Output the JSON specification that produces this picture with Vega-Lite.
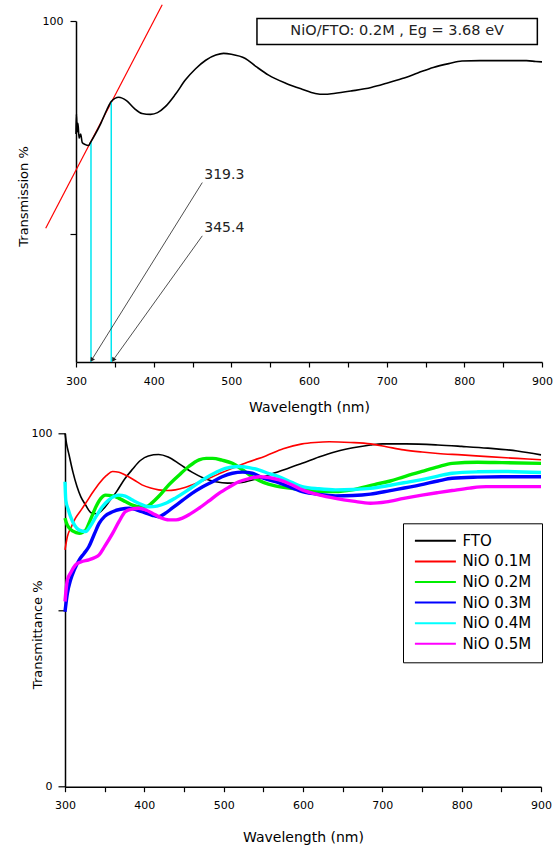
{
  "$schema": "https://vega.github.io/schema/vega-lite/v6.json",
  "padding": {"left": 17, "top": 2, "right": 5, "bottom": 5},
  "config": {
    "font": "DejaVu Sans",
    "view": {"stroke": null},
    "axis": {"grid": false, "domainColor": "black", "tickColor": "black", "labelColor": "black", "titleColor": "black", "labelFont": "DejaVu Sans", "titleFont": "DejaVu Sans", "labelFontSize": 11, "titleFontWeight": "normal", "domainWidth": 1.5, "tickWidth": 1.2}
  },
  "datasets": {
    "top": [
      {"wl": 300, "t": 73.5}, {"wl": 300.5, "t": 78.2}, {"wl": 301.5, "t": 74}, {"wl": 302.5, "t": 76}, {"wl": 304, "t": 72.5}, {"wl": 306, "t": 73.5}, {"wl": 308, "t": 71.5}, {"wl": 312, "t": 71.0}, {"wl": 316, "t": 70.8}, {"wl": 319.3, "t": 71.7}, {"wl": 325, "t": 73.5}, {"wl": 332, "t": 76}, {"wl": 340, "t": 79.3}, {"wl": 345.4, "t": 81.1}, {"wl": 355, "t": 82.1}, {"wl": 365, "t": 81.3}, {"wl": 375, "t": 79.5}, {"wl": 385, "t": 78.3}, {"wl": 396, "t": 78.1}, {"wl": 405, "t": 78.5}, {"wl": 415, "t": 79.9}, {"wl": 428, "t": 82.8}, {"wl": 441, "t": 86.2}, {"wl": 454, "t": 88.8}, {"wl": 467, "t": 90.8}, {"wl": 480, "t": 92.0}, {"wl": 490, "t": 92.4}, {"wl": 500, "t": 92.2}, {"wl": 518, "t": 91.2}, {"wl": 532, "t": 89.3}, {"wl": 548, "t": 87.3}, {"wl": 570, "t": 85.4}, {"wl": 591, "t": 84.0}, {"wl": 608, "t": 83.0}, {"wl": 620, "t": 82.8}, {"wl": 632, "t": 83.0}, {"wl": 655, "t": 83.6}, {"wl": 680, "t": 84.4}, {"wl": 700, "t": 85.4}, {"wl": 720, "t": 86.5}, {"wl": 740, "t": 87.8}, {"wl": 760, "t": 89.1}, {"wl": 780, "t": 90.0}, {"wl": 797, "t": 90.6}, {"wl": 820, "t": 90.7}, {"wl": 850, "t": 90.7}, {"wl": 880, "t": 90.7}, {"wl": 892, "t": 90.5}, {"wl": 900, "t": 90.4}
    ],
    "tangent": [{"wl": 261, "t": 51.4}, {"wl": 411, "t": 103.8}],
    "cutoff": [{"wl": 319.3, "t": 71.7}, {"wl": 345.4, "t": 81.1}],
    "arrows": [
      {"label": "319.3", "x0": 462.6, "y0": 62.1, "x1": 320.2, "y1": 20.5},
      {"label": "345.4", "x0": 462.6, "y0": 49.6, "x1": 348.0, "y1": 20.5}
    ],
    "box": [{"text": "NiO/FTO: 0.2M , Eg = 3.68 eV", "x1": 533, "x2": 894, "y1": 100.6, "y2": 94.5, "xm": 713.5, "ym": 97.55}],
    "bottom": [
      {"s": "FTO", "wl": 300, "t": 100}, {"s": "FTO", "wl": 302, "t": 97}, {"s": "FTO", "wl": 305, "t": 94}, {"s": "FTO", "wl": 310, "t": 89}, {"s": "FTO", "wl": 315, "t": 85}, {"s": "FTO", "wl": 320, "t": 82}, {"s": "FTO", "wl": 326, "t": 79.7}, {"s": "FTO", "wl": 333, "t": 77.5}, {"s": "FTO", "wl": 340, "t": 77.2}, {"s": "FTO", "wl": 348, "t": 78.5}, {"s": "FTO", "wl": 355, "t": 80.5}, {"s": "FTO", "wl": 365, "t": 83.5}, {"s": "FTO", "wl": 375, "t": 87}, {"s": "FTO", "wl": 385, "t": 89.8}, {"s": "FTO", "wl": 395, "t": 92.3}, {"s": "FTO", "wl": 405, "t": 93.6}, {"s": "FTO", "wl": 418, "t": 94}, {"s": "FTO", "wl": 430, "t": 93.3}, {"s": "FTO", "wl": 445, "t": 91.2}, {"s": "FTO", "wl": 460, "t": 89}, {"s": "FTO", "wl": 475, "t": 87.3}, {"s": "FTO", "wl": 490, "t": 86.3}, {"s": "FTO", "wl": 505, "t": 85.9}, {"s": "FTO", "wl": 520, "t": 86.0}, {"s": "FTO", "wl": 540, "t": 87}, {"s": "FTO", "wl": 557, "t": 88.2}, {"s": "FTO", "wl": 580, "t": 90}, {"s": "FTO", "wl": 599, "t": 91.5}, {"s": "FTO", "wl": 620, "t": 93.3}, {"s": "FTO", "wl": 641, "t": 94.8}, {"s": "FTO", "wl": 663, "t": 95.9}, {"s": "FTO", "wl": 685, "t": 96.7}, {"s": "FTO", "wl": 700, "t": 97}, {"s": "FTO", "wl": 730, "t": 97}, {"s": "FTO", "wl": 770, "t": 96.7}, {"s": "FTO", "wl": 800, "t": 96.3}, {"s": "FTO", "wl": 833, "t": 95.8}, {"s": "FTO", "wl": 870, "t": 95}, {"s": "FTO", "wl": 900, "t": 93.9},
      {"s": "NiO 0.1M", "wl": 300, "t": 67}, {"s": "NiO 0.1M", "wl": 303, "t": 70.8}, {"s": "NiO 0.1M", "wl": 308, "t": 73.5}, {"s": "NiO 0.1M", "wl": 313, "t": 75.9}, {"s": "NiO 0.1M", "wl": 320, "t": 78.2}, {"s": "NiO 0.1M", "wl": 326, "t": 80.2}, {"s": "NiO 0.1M", "wl": 335, "t": 83.3}, {"s": "NiO 0.1M", "wl": 343, "t": 85.8}, {"s": "NiO 0.1M", "wl": 352, "t": 88}, {"s": "NiO 0.1M", "wl": 360, "t": 89.2}, {"s": "NiO 0.1M", "wl": 368, "t": 89}, {"s": "NiO 0.1M", "wl": 376, "t": 88.2}, {"s": "NiO 0.1M", "wl": 387, "t": 86.8}, {"s": "NiO 0.1M", "wl": 397, "t": 85.4}, {"s": "NiO 0.1M", "wl": 408, "t": 84.5}, {"s": "NiO 0.1M", "wl": 418, "t": 84}, {"s": "NiO 0.1M", "wl": 430, "t": 83.8}, {"s": "NiO 0.1M", "wl": 439, "t": 84}, {"s": "NiO 0.1M", "wl": 450, "t": 84.6}, {"s": "NiO 0.1M", "wl": 460, "t": 85.4}, {"s": "NiO 0.1M", "wl": 473, "t": 86.5}, {"s": "NiO 0.1M", "wl": 486, "t": 87.7}, {"s": "NiO 0.1M", "wl": 498, "t": 88.9}, {"s": "NiO 0.1M", "wl": 511, "t": 90.1}, {"s": "NiO 0.1M", "wl": 530, "t": 91.8}, {"s": "NiO 0.1M", "wl": 553, "t": 93.6}, {"s": "NiO 0.1M", "wl": 575, "t": 95.6}, {"s": "NiO 0.1M", "wl": 599, "t": 97}, {"s": "NiO 0.1M", "wl": 615, "t": 97.4}, {"s": "NiO 0.1M", "wl": 633, "t": 97.6}, {"s": "NiO 0.1M", "wl": 660, "t": 97.4}, {"s": "NiO 0.1M", "wl": 685, "t": 97}, {"s": "NiO 0.1M", "wl": 705, "t": 96.2}, {"s": "NiO 0.1M", "wl": 727, "t": 95.3}, {"s": "NiO 0.1M", "wl": 750, "t": 94.7}, {"s": "NiO 0.1M", "wl": 770, "t": 94.3}, {"s": "NiO 0.1M", "wl": 800, "t": 93.9}, {"s": "NiO 0.1M", "wl": 833, "t": 93.4}, {"s": "NiO 0.1M", "wl": 870, "t": 92.9}, {"s": "NiO 0.1M", "wl": 900, "t": 92.5},
      {"s": "NiO 0.2M", "wl": 300, "t": 76}, {"s": "NiO 0.2M", "wl": 302, "t": 74.5}, {"s": "NiO 0.2M", "wl": 305, "t": 73.3}, {"s": "NiO 0.2M", "wl": 310, "t": 72.3}, {"s": "NiO 0.2M", "wl": 318, "t": 71.7}, {"s": "NiO 0.2M", "wl": 326, "t": 72.6}, {"s": "NiO 0.2M", "wl": 332, "t": 75.5}, {"s": "NiO 0.2M", "wl": 339, "t": 79.2}, {"s": "NiO 0.2M", "wl": 345, "t": 81.5}, {"s": "NiO 0.2M", "wl": 351, "t": 82.5}, {"s": "NiO 0.2M", "wl": 360, "t": 82.3}, {"s": "NiO 0.2M", "wl": 368, "t": 81.6}, {"s": "NiO 0.2M", "wl": 376, "t": 80.7}, {"s": "NiO 0.2M", "wl": 385, "t": 79.7}, {"s": "NiO 0.2M", "wl": 395, "t": 79.2}, {"s": "NiO 0.2M", "wl": 402, "t": 79.2}, {"s": "NiO 0.2M", "wl": 410, "t": 80.4}, {"s": "NiO 0.2M", "wl": 418, "t": 82.1}, {"s": "NiO 0.2M", "wl": 430, "t": 85.2}, {"s": "NiO 0.2M", "wl": 444, "t": 88.2}, {"s": "NiO 0.2M", "wl": 456, "t": 90.6}, {"s": "NiO 0.2M", "wl": 469, "t": 92.5}, {"s": "NiO 0.2M", "wl": 478, "t": 92.9}, {"s": "NiO 0.2M", "wl": 486, "t": 92.9}, {"s": "NiO 0.2M", "wl": 498, "t": 92.4}, {"s": "NiO 0.2M", "wl": 511, "t": 91.5}, {"s": "NiO 0.2M", "wl": 523, "t": 89.8}, {"s": "NiO 0.2M", "wl": 536, "t": 87.7}, {"s": "NiO 0.2M", "wl": 550, "t": 86.1}, {"s": "NiO 0.2M", "wl": 565, "t": 85.1}, {"s": "NiO 0.2M", "wl": 585, "t": 84.4}, {"s": "NiO 0.2M", "wl": 599, "t": 84}, {"s": "NiO 0.2M", "wl": 620, "t": 83.6}, {"s": "NiO 0.2M", "wl": 641, "t": 83.5}, {"s": "NiO 0.2M", "wl": 662, "t": 84}, {"s": "NiO 0.2M", "wl": 690, "t": 85.5}, {"s": "NiO 0.2M", "wl": 710, "t": 86.5}, {"s": "NiO 0.2M", "wl": 727, "t": 87.7}, {"s": "NiO 0.2M", "wl": 750, "t": 89.2}, {"s": "NiO 0.2M", "wl": 770, "t": 90.5}, {"s": "NiO 0.2M", "wl": 788, "t": 91.5}, {"s": "NiO 0.2M", "wl": 820, "t": 91.8}, {"s": "NiO 0.2M", "wl": 851, "t": 91.7}, {"s": "NiO 0.2M", "wl": 900, "t": 91.5},
      {"s": "NiO 0.3M", "wl": 300, "t": 49.5}, {"s": "NiO 0.3M", "wl": 303, "t": 54.7}, {"s": "NiO 0.3M", "wl": 307, "t": 58.5}, {"s": "NiO 0.3M", "wl": 312, "t": 61.5}, {"s": "NiO 0.3M", "wl": 318, "t": 64.2}, {"s": "NiO 0.3M", "wl": 324, "t": 66}, {"s": "NiO 0.3M", "wl": 330, "t": 67.9}, {"s": "NiO 0.3M", "wl": 337, "t": 71.5}, {"s": "NiO 0.3M", "wl": 343, "t": 74.5}, {"s": "NiO 0.3M", "wl": 350, "t": 76.5}, {"s": "NiO 0.3M", "wl": 360, "t": 77.8}, {"s": "NiO 0.3M", "wl": 370, "t": 78.5}, {"s": "NiO 0.3M", "wl": 381, "t": 78.8}, {"s": "NiO 0.3M", "wl": 392, "t": 78.2}, {"s": "NiO 0.3M", "wl": 402, "t": 77.4}, {"s": "NiO 0.3M", "wl": 410, "t": 76.8}, {"s": "NiO 0.3M", "wl": 418, "t": 76.4}, {"s": "NiO 0.3M", "wl": 426, "t": 77.3}, {"s": "NiO 0.3M", "wl": 435, "t": 78.8}, {"s": "NiO 0.3M", "wl": 448, "t": 81}, {"s": "NiO 0.3M", "wl": 460, "t": 83}, {"s": "NiO 0.3M", "wl": 473, "t": 84.8}, {"s": "NiO 0.3M", "wl": 486, "t": 86.3}, {"s": "NiO 0.3M", "wl": 498, "t": 87.7}, {"s": "NiO 0.3M", "wl": 511, "t": 88.7}, {"s": "NiO 0.3M", "wl": 524, "t": 89}, {"s": "NiO 0.3M", "wl": 536, "t": 88.7}, {"s": "NiO 0.3M", "wl": 550, "t": 87.3}, {"s": "NiO 0.3M", "wl": 570, "t": 86.0}, {"s": "NiO 0.3M", "wl": 599, "t": 83.5}, {"s": "NiO 0.3M", "wl": 620, "t": 82.7}, {"s": "NiO 0.3M", "wl": 641, "t": 82.3}, {"s": "NiO 0.3M", "wl": 663, "t": 82.4}, {"s": "NiO 0.3M", "wl": 685, "t": 82.8}, {"s": "NiO 0.3M", "wl": 710, "t": 83.8}, {"s": "NiO 0.3M", "wl": 748, "t": 85.4}, {"s": "NiO 0.3M", "wl": 770, "t": 86.5}, {"s": "NiO 0.3M", "wl": 788, "t": 87.3}, {"s": "NiO 0.3M", "wl": 820, "t": 87.6}, {"s": "NiO 0.3M", "wl": 851, "t": 87.7}, {"s": "NiO 0.3M", "wl": 900, "t": 87.7},
      {"s": "NiO 0.4M", "wl": 300, "t": 86.3}, {"s": "NiO 0.4M", "wl": 301, "t": 81.1}, {"s": "NiO 0.4M", "wl": 304, "t": 78.5}, {"s": "NiO 0.4M", "wl": 307, "t": 76.4}, {"s": "NiO 0.4M", "wl": 312, "t": 74}, {"s": "NiO 0.4M", "wl": 318, "t": 72.6}, {"s": "NiO 0.4M", "wl": 326, "t": 72.2}, {"s": "NiO 0.4M", "wl": 332, "t": 73.8}, {"s": "NiO 0.4M", "wl": 339, "t": 76.4}, {"s": "NiO 0.4M", "wl": 347, "t": 79.2}, {"s": "NiO 0.4M", "wl": 355, "t": 81.1}, {"s": "NiO 0.4M", "wl": 368, "t": 82.5}, {"s": "NiO 0.4M", "wl": 376, "t": 82.2}, {"s": "NiO 0.4M", "wl": 385, "t": 81.1}, {"s": "NiO 0.4M", "wl": 395, "t": 80}, {"s": "NiO 0.4M", "wl": 406, "t": 79.2}, {"s": "NiO 0.4M", "wl": 416, "t": 79.4}, {"s": "NiO 0.4M", "wl": 427, "t": 80.2}, {"s": "NiO 0.4M", "wl": 440, "t": 81.8}, {"s": "NiO 0.4M", "wl": 452, "t": 83.5}, {"s": "NiO 0.4M", "wl": 465, "t": 85.5}, {"s": "NiO 0.4M", "wl": 477, "t": 87.3}, {"s": "NiO 0.4M", "wl": 490, "t": 88.9}, {"s": "NiO 0.4M", "wl": 502, "t": 90.1}, {"s": "NiO 0.4M", "wl": 519, "t": 90.6}, {"s": "NiO 0.4M", "wl": 532, "t": 90.3}, {"s": "NiO 0.4M", "wl": 545, "t": 89.6}, {"s": "NiO 0.4M", "wl": 557, "t": 88.6}, {"s": "NiO 0.4M", "wl": 570, "t": 87.7}, {"s": "NiO 0.4M", "wl": 585, "t": 86.2}, {"s": "NiO 0.4M", "wl": 599, "t": 84.9}, {"s": "NiO 0.4M", "wl": 620, "t": 84.3}, {"s": "NiO 0.4M", "wl": 641, "t": 84}, {"s": "NiO 0.4M", "wl": 663, "t": 84.1}, {"s": "NiO 0.4M", "wl": 685, "t": 84.4}, {"s": "NiO 0.4M", "wl": 710, "t": 85.3}, {"s": "NiO 0.4M", "wl": 727, "t": 86}, {"s": "NiO 0.4M", "wl": 748, "t": 86.8}, {"s": "NiO 0.4M", "wl": 770, "t": 87.9}, {"s": "NiO 0.4M", "wl": 788, "t": 88.7}, {"s": "NiO 0.4M", "wl": 820, "t": 89.1}, {"s": "NiO 0.4M", "wl": 851, "t": 89.2}, {"s": "NiO 0.4M", "wl": 900, "t": 88.9},
      {"s": "NiO 0.5M", "wl": 300, "t": 52.4}, {"s": "NiO 0.5M", "wl": 303, "t": 58.5}, {"s": "NiO 0.5M", "wl": 307, "t": 60.5}, {"s": "NiO 0.5M", "wl": 313, "t": 62.7}, {"s": "NiO 0.5M", "wl": 320, "t": 63.6}, {"s": "NiO 0.5M", "wl": 330, "t": 64.2}, {"s": "NiO 0.5M", "wl": 337, "t": 64.8}, {"s": "NiO 0.5M", "wl": 343, "t": 65.6}, {"s": "NiO 0.5M", "wl": 350, "t": 68}, {"s": "NiO 0.5M", "wl": 360, "t": 71.7}, {"s": "NiO 0.5M", "wl": 368, "t": 75}, {"s": "NiO 0.5M", "wl": 376, "t": 77.8}, {"s": "NiO 0.5M", "wl": 385, "t": 78.6}, {"s": "NiO 0.5M", "wl": 393, "t": 78.8}, {"s": "NiO 0.5M", "wl": 402, "t": 78.3}, {"s": "NiO 0.5M", "wl": 410, "t": 77.4}, {"s": "NiO 0.5M", "wl": 420, "t": 76.2}, {"s": "NiO 0.5M", "wl": 431, "t": 75.5}, {"s": "NiO 0.5M", "wl": 440, "t": 75.5}, {"s": "NiO 0.5M", "wl": 448, "t": 76}, {"s": "NiO 0.5M", "wl": 458, "t": 77.2}, {"s": "NiO 0.5M", "wl": 469, "t": 78.8}, {"s": "NiO 0.5M", "wl": 481, "t": 80.8}, {"s": "NiO 0.5M", "wl": 494, "t": 83}, {"s": "NiO 0.5M", "wl": 507, "t": 84.8}, {"s": "NiO 0.5M", "wl": 519, "t": 86.3}, {"s": "NiO 0.5M", "wl": 532, "t": 87.2}, {"s": "NiO 0.5M", "wl": 545, "t": 87.7}, {"s": "NiO 0.5M", "wl": 557, "t": 87.5}, {"s": "NiO 0.5M", "wl": 570, "t": 86.8}, {"s": "NiO 0.5M", "wl": 585, "t": 85.5}, {"s": "NiO 0.5M", "wl": 599, "t": 84}, {"s": "NiO 0.5M", "wl": 620, "t": 82.6}, {"s": "NiO 0.5M", "wl": 641, "t": 81.6}, {"s": "NiO 0.5M", "wl": 663, "t": 80.8}, {"s": "NiO 0.5M", "wl": 685, "t": 80.2}, {"s": "NiO 0.5M", "wl": 705, "t": 80.6}, {"s": "NiO 0.5M", "wl": 727, "t": 81.6}, {"s": "NiO 0.5M", "wl": 750, "t": 82.5}, {"s": "NiO 0.5M", "wl": 770, "t": 83.2}, {"s": "NiO 0.5M", "wl": 788, "t": 83.8}, {"s": "NiO 0.5M", "wl": 810, "t": 84.5}, {"s": "NiO 0.5M", "wl": 831, "t": 84.9}, {"s": "NiO 0.5M", "wl": 860, "t": 84.9}, {"s": "NiO 0.5M", "wl": 900, "t": 84.9}
    ]
  },
  "bounds": "flush",
  "spacing": 71.3,
  "vconcat": [
    {
      "width": 477,
      "height": 341,
      "encoding": {
        "x": {"type": "quantitative", "scale": {"domain": [300, 900], "range": [11, 477], "nice": false, "zero": false},
          "axis": {"title": "Wavelength (nm)", "values": [300, 350, 400, 450, 500, 550, 600, 650, 700, 750, 800, 850, 900], "labelExpr": "datum.value % 100 == 0 ? datum.label : ''", "tickSize": 5, "labelPadding": 8, "labelFlush": false, "labelOverlap": false, "titleFontSize": 14, "titleBaseline": "alphabetic", "titleY": 49.7}},
        "y": {"type": "quantitative", "scale": {"domain": [20, 100], "nice": false, "zero": false},
          "axis": {"title": "Transmission %", "values": [50, 100], "labelExpr": "datum.value == 100 ? '100' : ''", "tickSize": 6, "labelPadding": 7, "offset": -11, "titleFontSize": 13, "titleAngle": 270, "titleAlign": "center", "titleBaseline": "bottom", "titleX": -46, "titleY": 175}}
      },
      "layer": [
        {"data": {"name": "tangent"}, "mark": {"type": "line", "color": "#ff0000", "strokeWidth": 1.2}, "encoding": {"x": {"field": "wl"}, "y": {"field": "t"}}},
        {"data": {"name": "cutoff"}, "mark": {"type": "rule", "color": "#00e6f0", "strokeWidth": 1.5}, "encoding": {"x": {"field": "wl"}, "y": {"field": "t"}, "y2": {"datum": 20}}},
        {"data": {"name": "top"}, "mark": {"type": "line", "color": "black", "strokeWidth": 1.6, "interpolate": "monotone"}, "encoding": {"x": {"field": "wl"}, "y": {"field": "t"}}},
        {"data": {"name": "arrows"}, "mark": {"type": "rule", "color": "#222", "strokeWidth": 0.8}, "encoding": {"x": {"field": "x0"}, "y": {"field": "y0"}, "x2": {"field": "x1"}, "y2": {"field": "y1"}}},
        {"data": {"name": "arrows"}, "mark": {"type": "point", "shape": "triangle-up", "filled": true, "color": "#222", "size": 26, "angle": 213, "opacity": 1}, "encoding": {"x": {"field": "x1"}, "y": {"field": "y1"}}},
        {"data": {"name": "arrows"}, "mark": {"type": "text", "align": "left", "baseline": "middle", "dx": 2, "dy": -8, "fontSize": 14, "color": "#222", "font": "DejaVu Sans"}, "encoding": {"x": {"field": "x0"}, "y": {"field": "y0"}, "text": {"field": "label"}}},
        {"data": {"name": "box"}, "mark": {"type": "rect", "fill": "white", "stroke": "black", "strokeWidth": 1.5}, "encoding": {"x": {"field": "x1"}, "x2": {"field": "x2"}, "y": {"field": "y1"}, "y2": {"field": "y2"}}},
        {"data": {"name": "box"}, "mark": {"type": "text", "align": "center", "baseline": "middle", "fontSize": 14.5, "color": "#222", "font": "DejaVu Sans"}, "encoding": {"x": {"field": "xm"}, "y": {"field": "ym"}, "text": {"field": "text"}}}
      ]
    },
    {
      "width": 476,
      "height": 353.4,
      "data": {"name": "bottom"},
      "encoding": {
        "x": {"field": "wl", "type": "quantitative", "scale": {"domain": [300, 900], "nice": false, "zero": false},
          "axis": {"title": "Wavelength (nm)", "values": [300, 350, 400, 450, 500, 550, 600, 650, 700, 750, 800, 850, 900], "labelExpr": "datum.value % 100 == 0 ? datum.label : ''", "tickSize": 5, "labelPadding": 8, "labelFlush": false, "labelOverlap": false, "titleFontSize": 14, "titleBaseline": "alphabetic", "titleY": 55}},
        "y": {"field": "t", "type": "quantitative", "scale": {"domain": [0, 100], "nice": false},
          "axis": {"title": "Transmittance %", "values": [0, 50, 100], "labelExpr": "datum.value == 50 ? '' : datum.label", "tickSize": 7, "labelPadding": 6, "titleFontSize": 13, "titleAngle": 270, "titleAlign": "center", "titleBaseline": "bottom", "titleX": -21, "titleY": 201}},
        "color": {"field": "s", "type": "nominal",
          "scale": {"domain": ["FTO", "NiO 0.1M", "NiO 0.2M", "NiO 0.3M", "NiO 0.4M", "NiO 0.5M"], "range": ["#000000", "#ff0000", "#00ee00", "#0000ff", "#00ffff", "#ff00ff"]},
          "legend": {"title": null, "orient": "none", "legendX": 338, "legendY": 502.3, "strokeColor": "black", "fillColor": "white", "padding": 10, "labelFontSize": 15, "labelFont": "DejaVu Sans", "labelColor": "black", "symbolType": "M-5.125,0H5.125", "symbolSize": 64, "symbolStrokeWidth": 2, "symbolOffset": 14.9, "labelOffset": 19.5, "rowPadding": 4.6}}
      },
      "layer": [
        {"transform": [{"filter": "datum.s == 'FTO' || datum.s == 'NiO 0.1M'"}], "mark": {"type": "line", "interpolate": "monotone", "strokeWidth": 1.6}},
        {"transform": [{"filter": "datum.s != 'FTO' && datum.s != 'NiO 0.1M'"}], "mark": {"type": "line", "interpolate": "monotone", "strokeWidth": 3.4}}
      ]
    }
  ]
}
